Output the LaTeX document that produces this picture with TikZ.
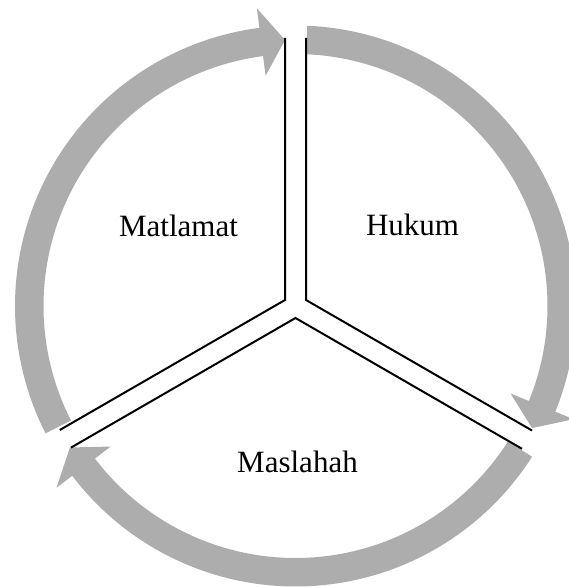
\documentclass[tikz,border=0pt]{standalone}
\usepackage{fontspec}
\setmainfont{Liberation Serif}
\usetikzlibrary{calc}
\definecolor{bandgray}{RGB}{173,173,173}
\def\bandRo{280.5}
\def\bandRi{252}
\def\bandRm{266.25}
\def\bandRhi{300.25}
\def\bandRlo{232.25}
\newcommand{\ringarrow}[3]{%
  \fill[band] ($(O)+(#1:\bandRo)$) arc[start angle=#1, end angle=#2, radius=\bandRo]
    -- ($(O)+(#2:\bandRhi)$) -- ($(O)+(#3:\bandRm)$) -- ($(O)+(#2:\bandRlo)$)
    -- ($(O)+(#2:\bandRi)$) arc[start angle=#2, end angle=#1, radius=\bandRi] -- cycle;}
\begin{document}
\begin{tikzpicture}[x=1pt,y=1pt,
  divider/.style={line width=2pt, black, line join=miter},
  band/.style={fill=bandgray},
  lbl/.style={font=\fontsize{31}{37}\selectfont, anchor=base, inner sep=0pt}]
\useasboundingbox (0,0) rectangle (569,587);
\coordinate (O) at (295.5,281);
% arrows of the cycle
\ringarrow{207}{97.4}{92.25}
\ringarrow{87.6}{-22.15}{-27.3}
\ringarrow{-32.5}{-142.75}{-147.9}
% dividers
\coordinate (mTop) at (285,549);
\coordinate (mJoin) at (285,287);
\coordinate (mEnd) at (59.8,157);
\coordinate (hTop) at (306,549);
\coordinate (hJoin) at (306,287);
\coordinate (hEnd) at (532,156.5);
\coordinate (sLeft) at (71,139.4);
\coordinate (sJoin) at (295.5,269);
\coordinate (sRight) at (522,138.2);
\draw[divider] (mTop) -- (mJoin) -- (mEnd);
\draw[divider] (hTop) -- (hJoin) -- (hEnd);
\draw[divider] (sLeft) -- (sJoin) -- (sRight);
% labels
\node[lbl] (matlamat) at (178.5,350) {Matlamat};
\node[lbl] (hukum) at (412.5,351) {Hukum};
\node[lbl] (maslahah) at (297.5,114) {Maslahah};
\end{tikzpicture}
\end{document}
